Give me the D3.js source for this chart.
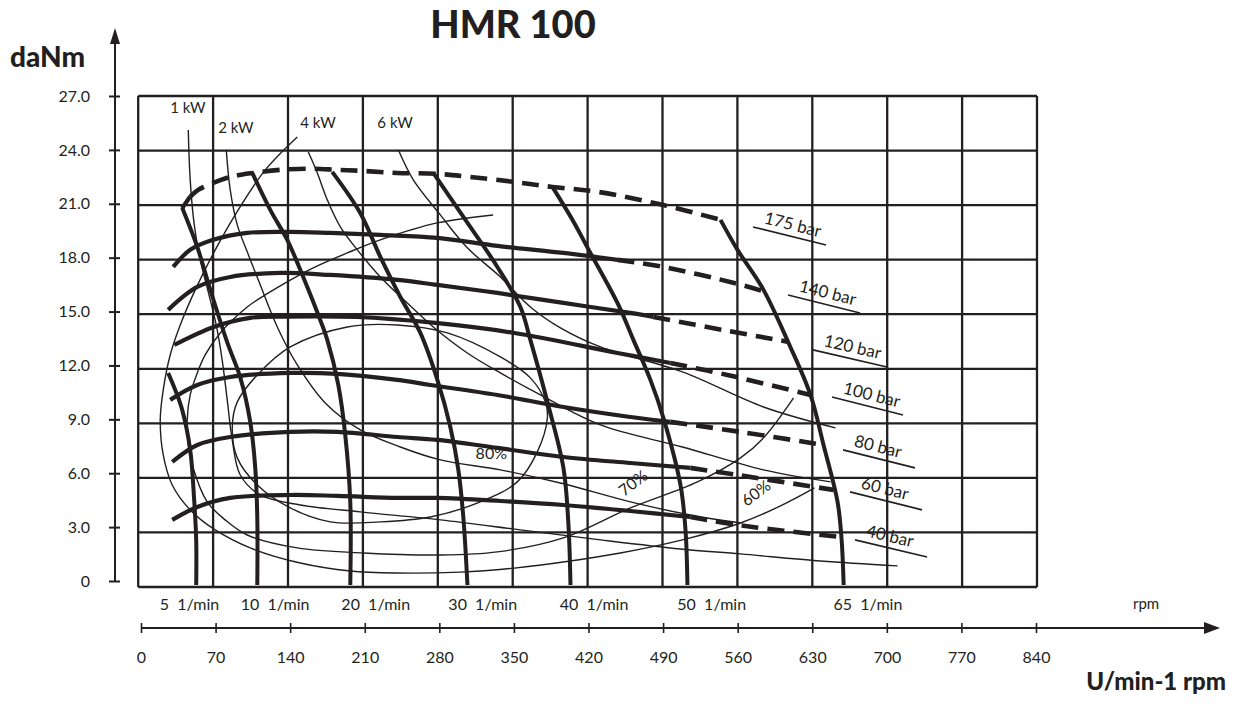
<!DOCTYPE html>
<html><head><meta charset="utf-8">
<script src="https://cdn.jsdelivr.net/npm/d3@7"></script>
<style>body{margin:0;background:#fff}svg{display:block}text{font-family:'Lato','DejaVu Sans',sans-serif;fill:#231f20}</style>
</head><body><svg id="c" width="1240" height="706"></svg>
<script>
// ---------- DATA (rpm, torque daNm) ----------
const xTicks = [0,70,140,210,280,350,420,490,560,630,700,770,840];
const yTicks = [0,3,6,9,12,15,18,21,24,27];
const speedLabels = ["5  1/min","10  1/min","20  1/min","30  1/min","40  1/min","50  1/min","65  1/min"];
const speedLabelRpm = [48,128,222,322,426,536,682];
const powerLabels = ["1 kW","2 kW","4 kW","6 kW"];
const powerLabelPos = [[29.9,26.07],[74.8,24.97],[151.5,25.25],[223.5,25.25]];
const pressureLabels = ["175 bar","140 bar","120 bar","100 bar","80 bar","60 bar","40 bar"];
const pressureLabelLines = [
  [[574.6,19.8],[642.9,18.81]],
  [[607.3,16.06],[674.6,15.07]],
  [[630.6,13.04],[699.8,12.1]],
  [[648.4,10.45],[714.8,9.46]],
  [[658.7,7.54],[726.0,6.55]],
  [[665.2,5.23],[732.5,4.24]],
  [[669.9,2.59],[737.3,1.65]]
];
const p175 = [[41,20.83],[48.6,21.47],[56.1,21.84],[70.1,22.22],[86,22.55],[107.5,22.77],[132.8,22.94],[160.8,23.0],[186.1,22.94],[210.4,22.88],[242.2,22.77],[279.6,22.72],[310.4,22.55],[350.6,22.28],[387.1,22.0],[429.2,21.73],[490.9,21.0],[544.2,20.19]];
const p140 = [[32.7,17.6],[48.6,18.54],[70.1,19.09],[101.9,19.47],[142.1,19.53],[179.5,19.47],[226.3,19.36],[279.6,19.2],[335.7,18.76],[397.4,18.37],[447.9,17.99],[490.9,17.6],[560.1,16.67],[589.1,16.17]];
const p120 = [[28,15.24],[55.2,16.5],[86,17.05],[132.8,17.27],[179.5,17.16],[242.2,16.89],[279.6,16.61],[335.7,16.17],[397.4,15.62],[460,15.07],[481.5,14.85],[546,14.14],[607.8,13.48]];
const p100 = [[33.7,13.31],[70.6,14.3],[104.7,14.8],[137.4,14.87],[203.8,14.85],[277.7,14.52],[351.6,13.97],[447.9,12.87],[497.4,12.32],[550.7,11.66],[628.3,10.56]];
const p80 = [[29.9,10.29],[55.2,11.11],[86,11.55],[142.1,11.77],[186.1,11.72],[242.2,11.39],[273,11.11],[335.7,10.56],[397.4,9.9],[460,9.35],[497.4,9.08],[562.9,8.53],[640.5,7.81]];
const p60 = [[31.8,6.88],[55.2,7.81],[86,8.25],[142.1,8.53],[186.1,8.53],[242.2,8.25],[279.6,8.09],[335.7,7.65],[397.4,7.15],[460,6.82],[516.1,6.55],[560.1,6.16],[649.8,5.34]];
const p40 = [[31.8,3.69],[55.2,4.4],[86,4.9],[142.1,5.06],[186.1,5.01],[242.2,4.9],[279.6,4.9],[338.5,4.73],[397.4,4.51],[460,4.18],[516.1,3.85],[560.1,3.41],[656.3,2.75]];
const pressureSplit = [1,10,10,8,10,10,10]; // index where dashed part begins
const s5 = [[28,11.77],[34.6,10.84],[41.1,9.74],[48.6,7.54],[52.3,4.79],[54.2,2.59],[54.2,0.11]];
const s10 = [[41.1,20.85],[55.2,18.7],[67.4,16.34],[83.4,13.42],[95.5,11.5],[104.7,9.08],[109.4,6.55],[111.3,3.8],[111.3,0.11]];
const s20 = [[106.6,22.77],[123.4,20.74],[139.3,19.09],[149.6,17.71],[158,16.5],[168.3,14.96],[176.7,13.59],[187,11.11],[193.5,8.36],[198.2,4.68],[198.2,0.11]];
const s30 = [[181.3,22.83],[207.5,20.57],[226.3,18.15],[245,15.95],[263.7,13.97],[279.6,11.39],[291.7,8.8],[299.2,6.44],[303.9,3.8],[307.7,0.11]];
const s40 = [[275.8,22.77],[303.9,20.35],[335.7,17.6],[357.2,15.4],[366.5,13.59],[382.4,10.18],[397.4,6.55],[402.1,3.41],[404,0.11]];
const s50 = [[387.1,22.0],[405.8,20.19],[422.6,18.37],[447.9,15.62],[462.8,13.59],[478.7,11.39],[490.9,9.29],[506.8,5.61],[511.5,3.13],[513.3,0.11]];
const s65 = [[544.2,20.19],[560.1,18.54],[584.4,16.34],[607.8,13.42],[628.3,10.56],[640.5,7.81],[653.6,4.68],[657.4,2.59],[659.3,0.11]];
const kw1 = [[46.8,25.13],[48.6,22.39],[52.4,19.91],[58,17.99],[65.5,16.22],[72.9,14.41],[78.5,12.48],[83.2,10.29],[87.9,8.09],[95.4,6.16],[114.1,5.06],[151.5,4.51],[207.6,4.13],[282.4,3.69],[357.2,3.14],[432,2.59],[506.8,2.09],[562.9,1.82],[637.7,1.43],[709.7,1.16]];
const kw2 = [[82.3,24.04],[86,21.84],[92.6,19.91],[101.9,18.43],[114.1,16.61],[130,14.3],[148.7,12.21],[174.8,10.12],[207.6,8.64],[245,7.7],[282.4,6.99],[338.5,6.44],[394.6,5.72],[460,4.68],[516.1,3.96],[562.9,3.52]];
const kw4 = [[158.9,23.93],[167.4,22.77],[176.7,21.29],[188.9,19.8],[204.8,18.54],[226.3,17.05],[251.5,15.62],[275.8,14.3],[307.6,12.87],[338.5,11.77],[375.9,10.56],[432,8.91],[508.6,7.7],[584.4,6.44],[647,5.78]];
const kw6 = [[243.1,24.04],[257.1,22.39],[282.4,20.46],[307.6,18.65],[338.5,17.05],[366.5,15.4],[394.6,14.25],[432,13.2],[508.6,11.83],[584.4,9.9],[651.7,8.75]];
const eff60 = [[148.7,24.75],[118.8,22.94],[93.5,20.74],[72,18.54],[53.3,16.34],[39.3,14.41],[29.9,12.76],[23.4,10.84],[20.6,9.19],[23.4,7.26],[31.8,5.61],[48.6,4.24],[72,3.14],[104.7,2.15],[151.5,1.32],[198.2,0.88],[240.3,0.77],[301.1,0.82],[351.6,1.04],[403.9,1.43],[450.7,1.87],[508.6,2.59],[562.9,3.52],[600.3,4.46],[632.1,5.45]];
const eff70 = [[331.7,20.46],[279.6,20.02],[226.3,19.09],[195.4,18.37],[165.5,17.6],[142.1,16.88],[118.7,16.06],[101.9,15.4],[76.7,13.97],[62.6,12.76],[55.2,11.77],[48.6,10.56],[45.8,9.19],[46.8,7.81],[50.5,6.71],[64.5,4.68],[81.3,3.69],[101.9,2.86],[148.7,2.15],[210.4,1.87],[282.4,1.76],[335.7,1.93],[397.4,2.7],[460,4.35],[522.7,5.78],[562.9,7.1],[584.4,8.2],[612.5,10.4]];
const eff80 = [[87.9,8.75],[92.6,10.18],[111.3,11.66],[142.1,13.2],[195.4,14.3],[242.2,14.41],[289,13.97],[338.5,12.65],[366.5,11.5],[380.5,10.18],[382.4,9.29],[373,7.43],[354.3,5.78],[319.7,4.68],[273,3.85],[226.3,3.58],[179.5,3.58],[142.1,4.35],[111.3,5.61],[92.6,7.1]];
const effLabels = ["80%","70%","60%"];
const effLabelPos = [[330,7.35],[462.5,5.72],[577.4,5.17]];
const effLabelRot = [0,-37,-37];

// ---------- SCALES ----------
const ink = "#231f20";
const svg = d3.select("#c");
const x = d3.scaleLinear().domain([0,840]).range([138.2,1037]);
const y = d3.scaleLinear().domain([0,27]).range([587,96]);
const xA = d3.scaleLinear().domain([0,840]).range([141,1036]);
const yA = d3.scaleLinear().domain([0,27]).range([581,96]);
const line = d3.line().x(d=>x(d[0])).y(d=>y(d[1])).curve(d3.curveCatmullRom.alpha(0.5));
const closed = d3.line().x(d=>x(d[0])).y(d=>y(d[1])).curve(d3.curveCatmullRomClosed.alpha(0.5));

// ---------- GRID ----------
const grid = svg.append("g").attr("stroke",ink).attr("stroke-width",2.3);
grid.selectAll(".v").data(xTicks).join("line").attr("x1",d=>x(d)).attr("x2",d=>x(d)).attr("y1",y(27)).attr("y2",y(0));
grid.selectAll(".h").data(yTicks).join("line").attr("y1",d=>y(d)).attr("y2",d=>y(d)).attr("x1",x(0)).attr("x2",x(840));

// ---------- THIN CURVES ----------
const thin = svg.append("g").attr("fill","none").attr("stroke",ink).attr("stroke-width",1.4);
[kw1,kw2,kw4,kw6,eff60,eff70].forEach(c=>thin.append("path").attr("d",line(c)));
thin.append("path").attr("d",closed(eff80));

// ---------- SPEED CURVES ----------
const sp = svg.append("g").attr("fill","none").attr("stroke",ink).attr("stroke-width",4).attr("stroke-linejoin","round");
[s5,s10,s20,s30,s40,s50,s65].forEach(c=>sp.append("path").attr("d",line(c)));

// ---------- PRESSURE CURVES ----------
const pr = svg.append("g").attr("fill","none").attr("stroke",ink).attr("stroke-width",4.2);
[p175,p140,p120,p100,p80,p60,p40].forEach((c,i)=>{
  const k = pressureSplit[i];
  pr.append("path").attr("d",line(c.slice(0,k+1)));
  pr.append("path").attr("d",line(c.slice(k))).attr("stroke-dasharray","17,9").attr("stroke-width",4.6);
});

// ---------- LABELS IN PLOT ----------
svg.selectAll(".kw").data(powerLabels).join("text").attr("x",(d,i)=>x(powerLabelPos[i][0])).attr("y",(d,i)=>y(powerLabelPos[i][1])).attr("font-size",15).text(d=>d);
svg.selectAll(".eff").data(effLabels).join("text")
  .attr("transform",(d,i)=>`translate(${x(effLabelPos[i][0])},${y(effLabelPos[i][1])}) rotate(${effLabelRot[i]})`)
  .attr("text-anchor","middle").attr("dy","0.35em").attr("font-size",16).text(d=>d);
const bl = svg.selectAll(".bl").data(pressureLabels).join("g").attr("transform",(d,i)=>{
  const a=pressureLabelLines[i][0], b=pressureLabelLines[i][1];
  const ang = Math.atan2(y(b[1])-y(a[1]), x(b[0])-x(a[0]))*180/Math.PI;
  return `translate(${x(a[0])},${y(a[1])}) rotate(${ang})`;
});
bl.append("line").attr("x1",0).attr("y1",0).attr("x2",(d,i)=>{const a=pressureLabelLines[i][0], b=pressureLabelLines[i][1];return Math.hypot(x(b[0])-x(a[0]),y(b[1])-y(a[1]));}).attr("y2",0).attr("stroke",ink).attr("stroke-width",1.6);
bl.append("text").attr("x",9).attr("y",-6).attr("font-size",17).text(d=>d);

// ---------- AXES ----------
const ay = svg.append("g").attr("transform","translate(115,0)")
  .call(d3.axisLeft(yA).tickValues(yTicks).tickSizeOuter(0).tickSize(5).tickPadding(20).tickFormat(d=>d===0?"0":d3.format(".1f")(d)));
ay.select(".domain").remove();
ay.selectAll(".tick line").attr("x1",5).attr("x2",-6).attr("stroke",ink).attr("stroke-width",2);
ay.selectAll(".tick text").attr("font-size",16).attr("font-family","'Lato','DejaVu Sans',sans-serif").attr("fill",ink);
svg.append("line").attr("x1",115).attr("x2",115).attr("y1",yA(0)).attr("y2",40).attr("stroke",ink).attr("stroke-width",2);
svg.append("path").attr("d","M115,28 L110,44 L120,44 Z").attr("fill",ink);

const ax = svg.append("g").attr("transform","translate(0,628)")
  .call(d3.axisBottom(xA).tickValues(xTicks).tickSizeOuter(0).tickSize(5).tickPadding(19));
ax.select(".domain").remove();
ax.selectAll(".tick line").attr("y1",-5).attr("y2",5).attr("stroke",ink).attr("stroke-width",1.6);
ax.selectAll(".tick text").attr("font-size",16).attr("font-family","'Lato','DejaVu Sans',sans-serif").attr("fill",ink);
svg.append("line").attr("x1",xA(0)).attr("x2",1208).attr("y1",628).attr("y2",628).attr("stroke",ink).attr("stroke-width",2);
svg.append("path").attr("d","M1220,628 L1204,622 L1204,634 Z").attr("fill",ink);

svg.selectAll(".spl").data(speedLabels).join("text").attr("x",(d,i)=>x(speedLabelRpm[i])).attr("y",610)
  .attr("text-anchor","middle").attr("font-size",16).style("white-space","pre").text(d=>d);
svg.append("text").attr("x",1133).attr("y",609).attr("font-size",15).text("rpm");

// ---------- TITLES ----------
svg.append("text").attr("x",513).attr("y",38).attr("text-anchor","middle").attr("font-size",38).attr("font-weight",900).text("HMR 100");
svg.append("text").attr("x",10).attr("y",67).attr("font-size",28).attr("font-weight",900).text("daNm");
svg.append("text").attr("x",1226).attr("y",690).attr("text-anchor","end").attr("font-size",24).attr("font-weight",900).text("U/min-1 rpm");
</script></body></html>
